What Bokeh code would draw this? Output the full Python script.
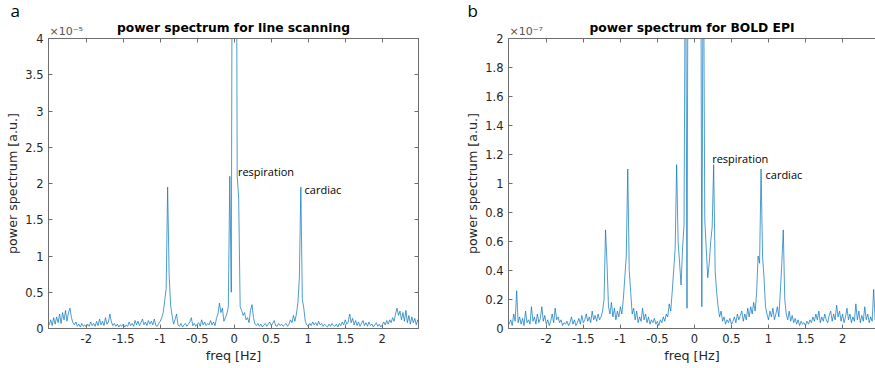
import numpy as np
from bokeh.plotting import figure
from bokeh.layouts import row
from bokeh.models import Range1d, LinearAxis, FixedTicker, Label, CustomJSTickFormatter
from bokeh.embed import file_html
from bokeh.resources import INLINE

# frequency grid (Hz), 0.02 Hz spacing
freq = np.round(np.arange(-2.5, 2.5001, 0.02), 2)

# power spectrum, line scanning (x 1e-5 a.u.)
power_line = [
    0.05, 0.12, 0.04, 0.15, 0.06, 0.16, 0.08, 0.20, 0.07, 0.22,
    0.12, 0.25, 0.10, 0.22, 0.28, 0.15, 0.08, 0.05, 0.09, 0.03,
    0.06, 0.02, 0.07, 0.03, 0.05, 0.02, 0.06, 0.03, 0.09, 0.04,
    0.07, 0.03, 0.10, 0.04, 0.13, 0.05, 0.10, 0.04, 0.15, 0.06,
    0.09, 0.20, 0.09, 0.04, 0.07, 0.03, 0.06, 0.02, 0.05, 0.03,
    0.06, 0.02, 0.05, 0.03, 0.09, 0.04, 0.07, 0.03, 0.11, 0.05,
    0.10, 0.04, 0.08, 0.13, 0.05, 0.09, 0.04, 0.11, 0.06, 0.10,
    0.05, 0.13, 0.04, 0.03, 0.07, 0.10, 0.15, 0.22, 0.38, 0.55,
    1.95, 0.75, 0.32, 0.18, 0.06, 0.12, 0.20, 0.05, 0.03, 0.07,
    0.02, 0.05, 0.07, 0.03, 0.06, 0.09, 0.15, 0.04, 0.07, 0.03,
    0.06, 0.08, 0.03, 0.12, 0.05, 0.09, 0.04, 0.07, 0.05, 0.11,
    0.05, 0.09, 0.04, 0.14, 0.20, 0.35, 0.22, 0.28, 0.10, 0.15,
    0.20, 0.30, 2.10, 0.50, 9.00, 15.0, 9.00, 2.10, 1.80, 0.30,
    0.25, 0.18, 0.22, 0.12, 0.15, 0.08, 0.25, 0.33, 0.15, 0.06,
    0.04, 0.07, 0.03, 0.06, 0.02, 0.05, 0.07, 0.03, 0.06, 0.09,
    0.04, 0.07, 0.11, 0.04, 0.03, 0.07, 0.04, 0.06, 0.03, 0.05,
    0.07, 0.03, 0.06, 0.12, 0.08, 0.18, 0.10, 0.20, 0.35, 0.70,
    1.95, 0.40, 0.28, 0.10, 0.05, 0.03, 0.07, 0.04, 0.09, 0.05,
    0.08, 0.04, 0.10, 0.05, 0.07, 0.03, 0.06, 0.04, 0.02, 0.06,
    0.03, 0.07, 0.04, 0.03, 0.06, 0.02, 0.07, 0.04, 0.09, 0.05,
    0.12, 0.06, 0.09, 0.20, 0.08, 0.14, 0.05, 0.11, 0.04, 0.09,
    0.03, 0.07, 0.11, 0.04, 0.08, 0.03, 0.09, 0.04, 0.06, 0.02,
    0.05, 0.08, 0.03, 0.06, 0.02, 0.05, 0.09, 0.05, 0.11, 0.06,
    0.12, 0.08, 0.15, 0.10, 0.20, 0.28, 0.18, 0.24, 0.12, 0.22,
    0.10, 0.25, 0.08, 0.18, 0.06, 0.16, 0.08, 0.14, 0.05, 0.12,
    0.06,
]

# power spectrum, BOLD EPI (x 1e-7 a.u.)
power_bold = [
    0.03, 0.06, 0.02, 0.10, 0.05, 0.26, 0.04, 0.08, 0.03, 0.07,
    0.02, 0.12, 0.04, 0.06, 0.03, 0.15, 0.05, 0.08, 0.03, 0.10,
    0.04, 0.07, 0.15, 0.05, 0.09, 0.03, 0.06, 0.02, 0.05, 0.10,
    0.04, 0.14, 0.06, 0.08, 0.04, 0.06, 0.02, 0.04, 0.03, 0.05,
    0.02, 0.04, 0.08, 0.03, 0.06, 0.02, 0.04, 0.07, 0.03, 0.09,
    0.04, 0.06, 0.10, 0.05, 0.08, 0.04, 0.12, 0.06, 0.09, 0.05,
    0.10, 0.06, 0.08, 0.12, 0.20, 0.68, 0.45, 0.15, 0.10, 0.18,
    0.08, 0.14, 0.06, 0.12, 0.08, 0.15, 0.10, 0.20, 0.35, 0.50,
    1.10, 0.40, 0.25, 0.10, 0.14, 0.06, 0.12, 0.04, 0.08, 0.05,
    0.14, 0.06, 0.10, 0.04, 0.08, 0.03, 0.06, 0.04, 0.07, 0.03,
    0.05, 0.02, 0.06, 0.04, 0.08, 0.05, 0.10, 0.08, 0.17, 0.12,
    0.25, 0.40, 0.55, 1.13, 0.60, 0.45, 0.30, 0.55, 0.72, 3.00,
    0.14, 4.00, 6.00, 8.00, 10.0, 12.0, 10.0, 8.00, 6.00, 4.00,
    0.15, 3.00, 0.75, 0.55, 0.35, 0.45, 0.60, 0.70, 1.13, 0.40,
    0.25, 0.15, 0.08, 0.12, 0.05, 0.08, 0.03, 0.06, 0.04, 0.07,
    0.03, 0.05, 0.08, 0.04, 0.10, 0.06, 0.09, 0.12, 0.05, 0.10,
    0.06, 0.14, 0.08, 0.15, 0.10, 0.18, 0.12, 0.25, 0.50, 0.45,
    1.10, 0.50, 0.35, 0.15, 0.10, 0.06, 0.12, 0.08, 0.14, 0.06,
    0.10, 0.15, 0.08, 0.25, 0.45, 0.68, 0.20, 0.10, 0.06, 0.12,
    0.05, 0.09, 0.04, 0.07, 0.03, 0.06, 0.02, 0.05, 0.03, 0.04,
    0.02, 0.05, 0.03, 0.06, 0.04, 0.08, 0.05, 0.10, 0.06, 0.12,
    0.04, 0.08, 0.05, 0.10, 0.06, 0.04, 0.09, 0.12, 0.05, 0.10,
    0.06, 0.16, 0.08, 0.12, 0.05, 0.10, 0.04, 0.08, 0.14, 0.06,
    0.10, 0.04, 0.08, 0.05, 0.17, 0.06, 0.12, 0.04, 0.09, 0.05,
    0.15, 0.06, 0.10, 0.04, 0.08, 0.05, 0.27, 0.06, 0.09, 0.04,
    0.08,
]

x_ticks = [-2, -1.5, -1, -0.5, 0, 0.5, 1, 1.5, 2]
y_ticks_a = [0, 0.5, 1, 1.5, 2, 2.5, 3, 3.5, 4]
y_ticks_b = [0, 0.2, 0.4, 0.6, 0.8, 1, 1.2, 1.4, 1.6, 1.8, 2]

AX = "#6e6e6e"
TXT = "#262626"
LINE = "#0072BD"
FMT = CustomJSTickFormatter(code="return String(Math.round(tick*10)/10);")


def style_axis(ax, labels=True):
    ax.axis_line_color = AX
    ax.major_tick_line_color = AX
    ax.major_tick_in = 4
    ax.major_tick_out = 0
    ax.minor_tick_line_color = None
    ax.major_label_text_color = TXT
    ax.major_label_text_font = "DejaVu Sans"
    ax.major_label_text_font_size = "11.5px" if labels else "0px"
    ax.major_label_standoff = 5 if labels else 0
    ax.axis_label_text_font = "DejaVu Sans"
    ax.axis_label_text_font_size = "12.7px"
    ax.axis_label_text_font_style = "normal"
    ax.axis_label_text_color = TXT
    ax.axis_label_standoff = 2
    ax.formatter = FMT


def make_panel(width, letter, letter_offset, title, exponent, y_ticks, ymax, x_end,
               mb_left, mb_right, right_box):
    p = figure(width=width, height=368, output_backend="svg", toolbar_location=None,
               x_range=Range1d(-2.51, x_end), y_range=Range1d(0, ymax),
               x_axis_label="freq [Hz]", y_axis_label="power spectrum [a.u.]",
               min_border_left=mb_left, min_border_right=mb_right,
               min_border_top=20, min_border_bottom=40)
    p.grid.visible = False
    p.background_fill_color = "white"
    p.border_fill_color = "white"
    p.outline_line_color = AX if right_box else None
    # panel letter as the outermost title
    p.title.text = letter
    p.title.align = "left"
    p.title.offset = letter_offset
    p.title.text_font = "Open Sans"
    p.title.text_font_style = "normal"
    p.title.text_font_size = "17px"
    p.title.text_color = "black"
    p.title.standoff = -8
    p.xaxis.ticker = FixedTicker(ticks=x_ticks)
    p.yaxis.ticker = FixedTicker(ticks=y_ticks)
    for ax in p.xaxis + p.yaxis:
        style_axis(ax)
    # top box edge with inward ticks
    top = LinearAxis(ticker=FixedTicker(ticks=x_ticks))
    style_axis(top, labels=False)
    p.add_layout(top, "above")
    # exponent marker and chart title on a tick-less top axis
    hdr = LinearAxis(ticker=FixedTicker(ticks=[-2.27]),
                     formatter=CustomJSTickFormatter(args=dict(t=exponent), code="return t;"))
    hdr.axis_line_color = None
    hdr.major_tick_line_color = None
    hdr.minor_tick_line_color = None
    hdr.major_tick_in = 0
    hdr.major_tick_out = 0
    hdr.major_label_standoff = 1
    hdr.major_label_text_font = "DejaVu Sans"
    hdr.major_label_text_font_size = "11px"
    hdr.major_label_text_color = "#555555"
    hdr.axis_label = title
    hdr.axis_label_text_font = "DejaVu Sans"
    hdr.axis_label_text_font_style = "bold"
    hdr.axis_label_text_font_size = "12.3px"
    hdr.axis_label_text_color = "black"
    hdr.axis_label_standoff = -13
    p.add_layout(hdr, "above")
    if right_box:
        rgt = LinearAxis(ticker=FixedTicker(ticks=y_ticks))
        style_axis(rgt, labels=False)
        p.add_layout(rgt, "right")
    return p


pa = make_panel(458, "a", -38, "power spectrum for line scanning", "×10⁻⁵",
                y_ticks_a, 4, 2.49, 48, 40, True)
pa.line(freq, power_line, line_color=LINE, line_width=0.7)

pb = make_panel(417, "b", -41, "power spectrum for BOLD EPI", "×10⁻⁷",
                y_ticks_b, 2, 2.445, 50, 0, False)
pb.line(freq, power_bold, line_color=LINE, line_width=0.7)

ann = dict(text_font="Open Sans", text_font_size="11px", text_color="black",
           text_baseline="middle", text_align="left")
pa.add_layout(Label(x=0.05, y=2.17, text="respiration", **ann))
pa.add_layout(Label(x=0.95, y=1.92, text="cardiac", **ann))
pb.add_layout(Label(x=0.24, y=1.175, text="respiration", **ann))
pb.add_layout(Label(x=0.96, y=1.065, text="cardiac", **ann))

layout = row(pa, pb, spacing=0)
open("out.html", "w").write(file_html(layout, INLINE))
